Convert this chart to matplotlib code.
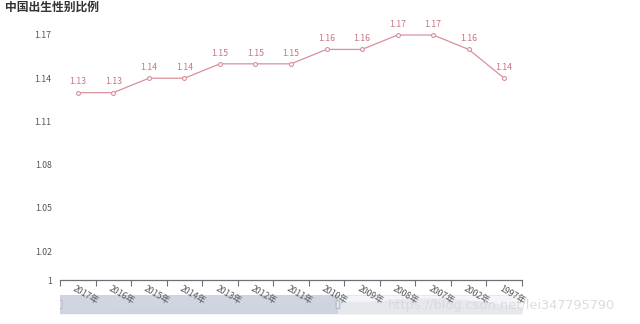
import matplotlib
matplotlib.use("Agg")
import matplotlib.pyplot as plt
from matplotlib.patches import Rectangle, FancyBboxPatch
import numpy as np

plt.rcParams['font.family'] = ['Noto Sans CJK SC', 'DejaVu Sans']

years = ['2017年', '2016年', '2015年', '2014年', '2013年', '2012年', '2011年',
         '2010年', '2009年', '2008年', '2007年', '2002年', '1997年']
ratios = [1.13, 1.13, 1.14, 1.14, 1.15, 1.15, 1.15, 1.16, 1.16, 1.17, 1.17, 1.16, 1.14]
yticks = [1.0, 1.02, 1.05, 1.08, 1.11, 1.14, 1.17]
ytick_labels = ['1', '1.02', '1.05', '1.08', '1.11', '1.14', '1.17']

W, H = 640, 324
fig = plt.figure(figsize=(W / 100, H / 100), dpi=100)

L, R, T, B = 60, 522, 35, 280
n = len(years)
x = np.arange(n)

# data zoom slider (drawn below main axes)
sT, sB = 295, 314
sax = fig.add_axes([L / W, 1 - sB / H, (R - L) / W, (sB - sT) / H])
sax.set_zorder(0)
sax.set_xlim(0, n - 1)
sax.set_ylim(0, 1)
sax.axis('off')
sax.add_patch(Rectangle((0, 0), n - 1, 1, facecolor='#f4f5f8', edgecolor='#e2e4ea', lw=0.6))
r = np.array(ratios)
shadow = 0.15 + 0.7 * (r - r.min()) / (r.max() - r.min())
sax.fill_between(x, 0, shadow, color='#e6e8ec', lw=0)
end = (338 - L) / (R - L) * (n - 1)
sax.add_patch(Rectangle((0, 0), end, 1, facecolor='#c9d1de', alpha=0.85, edgecolor='none'))
for hx in [0.0, end]:
    sax.add_patch(FancyBboxPatch((hx - 0.05, 0.28), 0.1, 0.44,
                                 boxstyle='round,pad=0.0,rounding_size=0.03',
                                 facecolor='#dfe3ea', edgecolor='#a7b0bf', lw=0.6, zorder=4))

ax = fig.add_axes([L / W, 1 - B / H, (R - L) / W, (B - T) / H])
ax.set_zorder(2)
ax.patch.set_alpha(0)
line_color = '#d9909c'
ax.plot(x, ratios, color=line_color, lw=0.9, marker='o', ms=2.8,
        mfc='white', mec=line_color, mew=0.8, zorder=3, clip_on=False)
for xi, v in zip(x, ratios):
    ax.annotate(f'{v:.2f}', (xi, v), xytext=(0, 4.5), textcoords='offset points',
                ha='center', va='bottom', fontsize=6.3, color='#c77480')

ax.set_xlim(-0.5, n - 0.5)
ax.set_ylim(1.0, 1.17)
ax.set_yticks(yticks)
ax.set_yticklabels(ytick_labels)
ax.tick_params(axis='y', length=0, labelsize=6.3, labelcolor='#555555', pad=6)

ax.set_xticks(np.arange(-0.5, n, 1.0))
ax.set_xticklabels([])
ax.tick_params(axis='x', direction='out', length=4, color='#6e7079', width=0.8)
for xi, lab in zip(x, years):
    ax.text(xi - 0.05, 0.997, lab, rotation=-30, rotation_mode='anchor',
            ha='left', va='top', fontsize=6.3, color='#555555',
            transform=ax.transData, clip_on=False, zorder=5)

for s in ['top', 'right', 'left']:
    ax.spines[s].set_visible(False)
ax.spines['bottom'].set_color('#6e7079')
ax.spines['bottom'].set_linewidth(0.9)

fig.text(5 / W, 1 - 7 / H, '中国出生性别比例', fontsize=8.5, fontweight='bold',
         color='#333333', ha='left', va='center')

fig.text(388 / W, 1 - 305 / H, 'https://blog.csdn.net/lei347795790', fontsize=9.3,
         color='#d6d8dc', alpha=0.9, ha='left', va='center', family='DejaVu Sans',
         zorder=10)

fig.savefig('out.png', dpi=100, facecolor='white')
